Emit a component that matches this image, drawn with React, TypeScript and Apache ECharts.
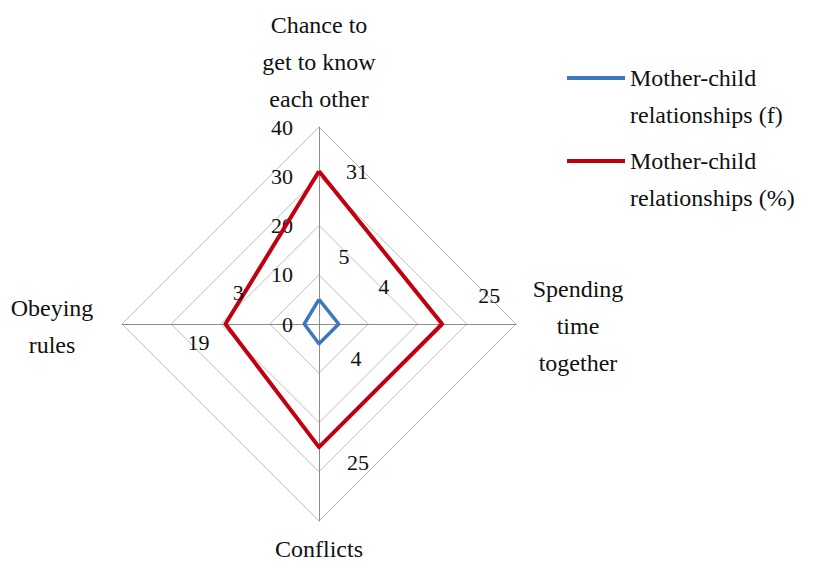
import React, { useEffect, useRef } from "react";
import * as echarts from "echarts";

// Indicators in ECharts radar order (counter-clockwise from top): top, left, bottom, right
const categories = [
  "Chance to\nget to know\neach other",
  "Obeying\nrules",
  "Conflicts",
  "Spending\ntime\ntogether",
];
const freqValues = [5, 3, 4, 4];
const pctValues = [31, 19, 25, 25];
const seriesNames = ["Mother-child\nrelationships (f)", "Mother-child\nrelationships (%)"];
const axisMin = 0;
const axisMax = 40;
const axisSplits = 4;

// styling
const FONT = "Liberation Serif";
const CX = 319;
const CY = 324;
const R = 197;
const BLUE = "#3b78bd";
const RED = "#c0000f";
const LINE_H = 37;
const pctLabelOffsets = [
  [38, 0],
  [-27, 18],
  [39, 15],
  [47, -29],
];
const freqLabelOffsets = [
  [25, -43],
  [-66, -32],
  [37, 15],
  [45, -38],
];
// centre of each indicator-name block, relative to the axis end
const nameOffsets = [
  [0, -65],
  [-70, 2],
  [0, 28],
  [62, 2],
];
const LEGEND_LEFT = 567;
const LEGEND_TOP = 76;
const LEGEND_ICON_W = 58;
const LEGEND_STEP = 83;

function pointAt(value: number, idx: number, off: number[]) {
  const ang = Math.PI / 2 + (idx * 2 * Math.PI) / categories.length;
  const r = ((value - axisMin) / (axisMax - axisMin)) * R;
  return [CX + r * Math.cos(ang) + off[0], CY - r * Math.sin(ang) + off[1]];
}

function textEl(text: string, x: number, y: number, size: number, align: string) {
  return {
    type: "text",
    x,
    y,
    z: 100,
    silent: true,
    style: {
      text,
      fontSize: size,
      fontFamily: FONT,
      fill: "#111",
      textAlign: align,
      textVerticalAlign: "middle",
    },
  };
}

export default function App() {
  const ref = useRef<HTMLDivElement>(null);
  useEffect(() => {
    if (!ref.current) return;
    const chart = echarts.init(ref.current, undefined, { renderer: "svg" });
    const texts: any[] = [];
    // data labels
    const addLabels = (vals: number[], offs: number[][]) => {
      vals.forEach((v, i) => {
        const [x, y] = pointAt(v, i, offs[i]);
        texts.push(textEl(String(v), x, y, 22, "center"));
      });
    };
    addLabels(pctValues, pctLabelOffsets);
    addLabels(freqValues, freqLabelOffsets);
    // indicator names, one single-line text per line, centred
    categories.forEach((name, i) => {
      const [bx, by] = pointAt(axisMax, i, nameOffsets[i]);
      const lines = name.split("\n");
      lines.forEach((line, k) => {
        const y = by + (k - (lines.length - 1) / 2) * LINE_H;
        texts.push(textEl(line, bx, y, 24, "center"));
      });
    });
    // legend texts beside the legend icons
    seriesNames.forEach((name, s) => {
      const iconY = LEGEND_TOP + 2 + s * LEGEND_STEP;
      name.split("\n").forEach((line, k) => {
        texts.push(textEl(line, LEGEND_LEFT + LEGEND_ICON_W + 5, iconY + k * LINE_H, 24, "left"));
      });
    });

    chart.setOption({
      animation: false,
      backgroundColor: "#ffffff",
      legend: {
        orient: "vertical",
        left: LEGEND_LEFT,
        top: LEGEND_TOP,
        padding: 0,
        icon: "rect",
        itemWidth: LEGEND_ICON_W,
        itemHeight: 4,
        itemGap: LEGEND_STEP - 4,
        data: seriesNames,
        formatter: () => "",
        textStyle: { fontSize: 4, lineHeight: 4 },
      },
      radar: {
        center: [CX, CY],
        radius: R,
        shape: "polygon",
        startAngle: 90,
        splitNumber: axisSplits,
        indicator: categories.map((name, i) => ({
          name,
          min: axisMin,
          max: axisMax,
          ...(i === 0
            ? {
                axisLabel: {
                  show: true,
                  margin: 26,
                  fontSize: 22,
                  fontFamily: FONT,
                  color: "#111",
                },
              }
            : {}),
        })),
        axisName: { show: false },
        axisLabel: { show: false },
        axisTick: { show: false },
        axisLine: { lineStyle: { color: "#8c8c8c", width: 1 } },
        splitLine: { lineStyle: { color: "#bdbdbd", width: 1 } },
        splitArea: { show: false },
      },
      series: [
        {
          type: "radar",
          symbol: "none",
          data: [
            {
              name: seriesNames[0],
              value: freqValues,
              itemStyle: { color: BLUE },
              lineStyle: { color: BLUE, width: 3.5 },
            },
            {
              name: seriesNames[1],
              value: pctValues,
              itemStyle: { color: RED },
              lineStyle: { color: RED, width: 4 },
            },
          ],
        },
      ],
      graphic: texts,
    });
    return () => chart.dispose();
  }, []);
  return (
    <div
      ref={ref}
      style={{ position: "absolute", left: 0, top: 0, width: 826, height: 561 }}
    />
  );
}
